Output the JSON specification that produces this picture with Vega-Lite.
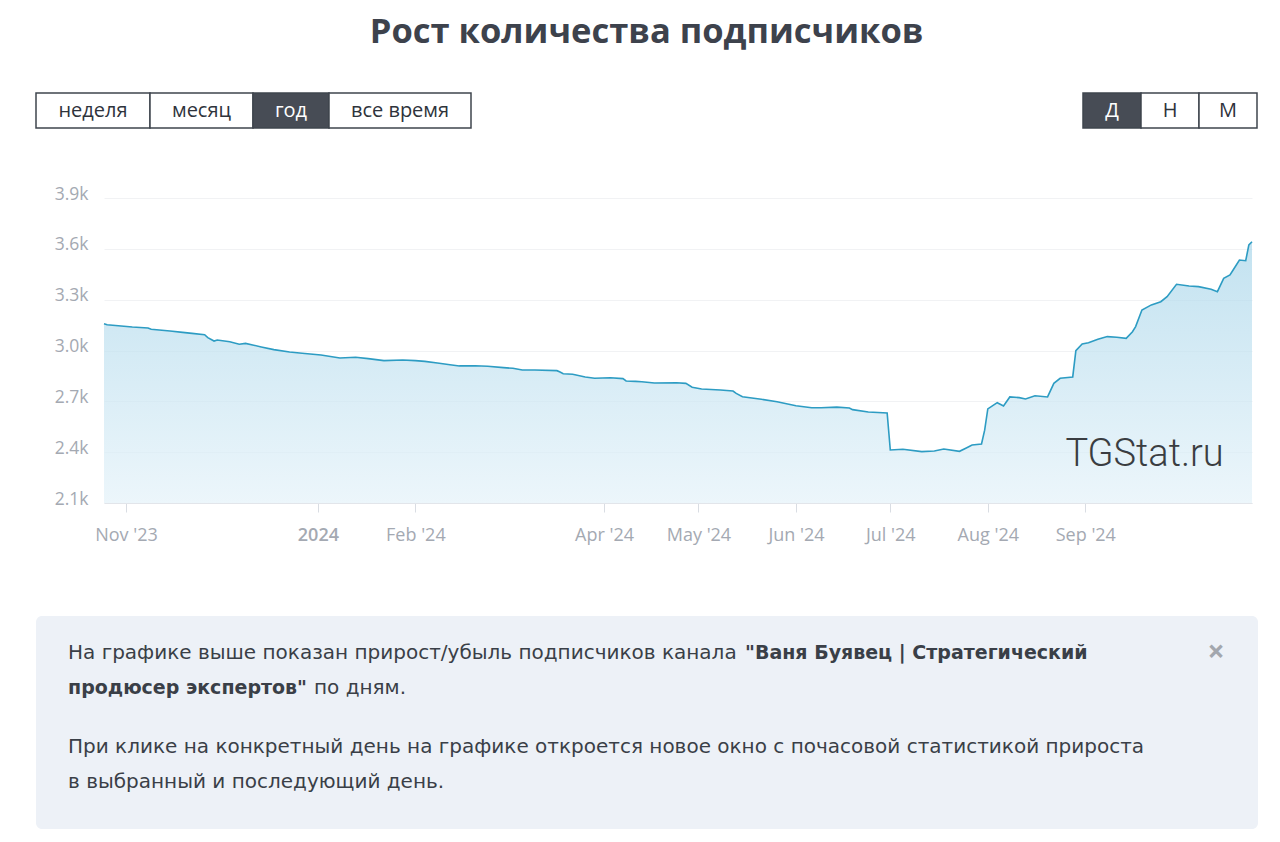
{
  "$schema": "https://vega.github.io/schema/vega-lite/v6.json",
  "background": "white",
  "padding": {"left": 35, "top": 14, "right": 0, "bottom": 0},
  "autosize": {"type": "pad"},
  "title": {"text": "Рост количества подписчиков", "font": "Open Sans", "fontSize": 34.5, "fontWeight": "bold", "color": "#3d424c", "anchor": "middle", "offset": 42},
  "config": {"view": {"stroke": null}, "font": "Open Sans"},
  "vconcat": [
    {
      "hconcat": [
        {"width": 114, "height": 35, "data": {"values": [{"label": "неделя"}]}, "mark": {"type": "text", "fontSize": 20, "color": "#2e333b"}, "encoding": {"text": {"field": "label"}}, "view": {"stroke": "#3f454e", "strokeWidth": 1.5, "fill": "#ffffff"}},
        {"width": 103, "height": 35, "data": {"values": [{"label": "месяц"}]}, "mark": {"type": "text", "fontSize": 20, "color": "#2e333b"}, "encoding": {"text": {"field": "label"}}, "view": {"stroke": "#3f454e", "strokeWidth": 1.5, "fill": "#ffffff"}},
        {"width": 76, "height": 35, "data": {"values": [{"label": "год"}]}, "mark": {"type": "text", "fontSize": 20, "color": "#ffffff"}, "encoding": {"text": {"field": "label"}}, "view": {"stroke": "#3f454e", "strokeWidth": 1.5, "fill": "#474c55"}},
        {"width": 142, "height": 35, "data": {"values": [{"label": "все время"}]}, "mark": {"type": "text", "fontSize": 20, "color": "#2e333b"}, "encoding": {"text": {"field": "label"}}, "view": {"stroke": "#3f454e", "strokeWidth": 1.5, "fill": "#ffffff"}},
        {"width": 612, "height": 35, "data": {"values": [{"label": ""}]}, "mark": {"type": "text"}, "encoding": {"text": {"field": "label"}}},
        {"width": 58, "height": 35, "data": {"values": [{"label": "Д"}]}, "mark": {"type": "text", "fontSize": 20, "color": "#ffffff"}, "encoding": {"text": {"field": "label"}}, "view": {"stroke": "#3f454e", "strokeWidth": 1.5, "fill": "#474c55"}},
        {"width": 58, "height": 35, "data": {"values": [{"label": "Н"}]}, "mark": {"type": "text", "fontSize": 20, "color": "#2e333b"}, "encoding": {"text": {"field": "label"}}, "view": {"stroke": "#3f454e", "strokeWidth": 1.5, "fill": "#ffffff"}},
        {"width": 58, "height": 35, "data": {"values": [{"label": "М"}]}, "mark": {"type": "text", "fontSize": 20, "color": "#2e333b"}, "encoding": {"text": {"field": "label"}}, "view": {"stroke": "#3f454e", "strokeWidth": 1.5, "fill": "#ffffff"}}
      ],
      "spacing": 0, "bounds": "flush"
    },
    {
      "hconcat": [
        {"width": 68, "height": 362, "data": {"values": [{"label": ""}]}, "mark": {"type": "text"}, "encoding": {"text": {"field": "label"}}, "view": {"fill": "#ffffff", "stroke": null}},
        {
          "width": 1148, "height": 305,
          "layer": [
            {
              "data": {"values": [
                {"date": "2023-10-25", "subs": 3158}, {"date": "2023-10-26", "subs": 3152}, {"date": "2023-11-03", "subs": 3139}, {"date": "2023-11-08", "subs": 3133},
                {"date": "2023-11-09", "subs": 3125}, {"date": "2023-11-15", "subs": 3115}, {"date": "2023-11-19", "subs": 3107}, {"date": "2023-11-22", "subs": 3101},
                {"date": "2023-11-26", "subs": 3093}, {"date": "2023-11-27", "subs": 3076}, {"date": "2023-11-29", "subs": 3056}, {"date": "2023-11-30", "subs": 3062},
                {"date": "2023-12-04", "subs": 3052}, {"date": "2023-12-07", "subs": 3037}, {"date": "2023-12-09", "subs": 3042}, {"date": "2023-12-14", "subs": 3021},
                {"date": "2023-12-18", "subs": 3005}, {"date": "2023-12-23", "subs": 2991}, {"date": "2023-12-27", "subs": 2984}, {"date": "2024-01-02", "subs": 2973},
                {"date": "2024-01-08", "subs": 2956}, {"date": "2024-01-13", "subs": 2960}, {"date": "2024-01-17", "subs": 2952}, {"date": "2024-01-22", "subs": 2940},
                {"date": "2024-01-28", "subs": 2944}, {"date": "2024-02-01", "subs": 2940}, {"date": "2024-02-04", "subs": 2936}, {"date": "2024-02-08", "subs": 2926},
                {"date": "2024-02-12", "subs": 2916}, {"date": "2024-02-15", "subs": 2909}, {"date": "2024-02-20", "subs": 2910}, {"date": "2024-02-24", "subs": 2907},
                {"date": "2024-02-29", "subs": 2899}, {"date": "2024-03-03", "subs": 2895}, {"date": "2024-03-06", "subs": 2885}, {"date": "2024-03-10", "subs": 2885},
                {"date": "2024-03-17", "subs": 2881}, {"date": "2024-03-18", "subs": 2873}, {"date": "2024-03-19", "subs": 2863}, {"date": "2024-03-22", "subs": 2860},
                {"date": "2024-03-26", "subs": 2844}, {"date": "2024-03-29", "subs": 2836}, {"date": "2024-04-03", "subs": 2839}, {"date": "2024-04-07", "subs": 2834},
                {"date": "2024-04-08", "subs": 2820}, {"date": "2024-04-11", "subs": 2818}, {"date": "2024-04-13", "subs": 2816}, {"date": "2024-04-17", "subs": 2808},
                {"date": "2024-04-24", "subs": 2810}, {"date": "2024-04-27", "subs": 2806}, {"date": "2024-04-29", "subs": 2783}, {"date": "2024-05-02", "subs": 2773},
                {"date": "2024-05-08", "subs": 2767}, {"date": "2024-05-12", "subs": 2761}, {"date": "2024-05-13", "subs": 2747}, {"date": "2024-05-15", "subs": 2727},
                {"date": "2024-05-21", "subs": 2712}, {"date": "2024-05-26", "subs": 2698}, {"date": "2024-06-01", "subs": 2674}, {"date": "2024-06-06", "subs": 2662},
                {"date": "2024-06-09", "subs": 2662}, {"date": "2024-06-14", "subs": 2666}, {"date": "2024-06-18", "subs": 2661}, {"date": "2024-06-19", "subs": 2651},
                {"date": "2024-06-24", "subs": 2637}, {"date": "2024-06-30", "subs": 2631}, {"date": "2024-07-01", "subs": 2413}, {"date": "2024-07-05", "subs": 2417},
                {"date": "2024-07-11", "subs": 2403}, {"date": "2024-07-15", "subs": 2407}, {"date": "2024-07-18", "subs": 2419}, {"date": "2024-07-23", "subs": 2405},
                {"date": "2024-07-25", "subs": 2423}, {"date": "2024-07-27", "subs": 2442}, {"date": "2024-07-30", "subs": 2448}, {"date": "2024-07-31", "subs": 2530},
                {"date": "2024-08-01", "subs": 2655}, {"date": "2024-08-04", "subs": 2692}, {"date": "2024-08-06", "subs": 2673}, {"date": "2024-08-08", "subs": 2726},
                {"date": "2024-08-11", "subs": 2722}, {"date": "2024-08-13", "subs": 2714}, {"date": "2024-08-16", "subs": 2733}, {"date": "2024-08-20", "subs": 2726},
                {"date": "2024-08-22", "subs": 2806}, {"date": "2024-08-24", "subs": 2836}, {"date": "2024-08-28", "subs": 2844}, {"date": "2024-08-29", "subs": 2999},
                {"date": "2024-08-31", "subs": 3038}, {"date": "2024-09-02", "subs": 3046}, {"date": "2024-09-05", "subs": 3066}, {"date": "2024-09-08", "subs": 3082},
                {"date": "2024-09-11", "subs": 3078}, {"date": "2024-09-14", "subs": 3072}, {"date": "2024-09-16", "subs": 3111}, {"date": "2024-09-17", "subs": 3141},
                {"date": "2024-09-19", "subs": 3239}, {"date": "2024-09-22", "subs": 3269}, {"date": "2024-09-25", "subs": 3288}, {"date": "2024-09-27", "subs": 3318},
                {"date": "2024-09-30", "subs": 3391}, {"date": "2024-10-04", "subs": 3381}, {"date": "2024-10-07", "subs": 3377}, {"date": "2024-10-11", "subs": 3361},
                {"date": "2024-10-13", "subs": 3347}, {"date": "2024-10-15", "subs": 3426}, {"date": "2024-10-17", "subs": 3446}, {"date": "2024-10-18", "subs": 3475},
                {"date": "2024-10-20", "subs": 3534}, {"date": "2024-10-22", "subs": 3530}, {"date": "2024-10-23", "subs": 3623}, {"date": "2024-10-24", "subs": 3642}
              ]},
              "mark": {
                "type": "area",
                "interpolate": "linear",
                "color": {"gradient": "linear", "x1": 0, "y1": 0, "x2": 0, "y2": 1, "stops": [{"offset": 0, "color": "#a9d6ea"}, {"offset": 1, "color": "#e4f2f9"}]},
                "line": {"color": "#2d9cc3", "strokeWidth": 1.6}
              },
              "encoding": {
                "x": {
                  "field": "date", "type": "temporal",
                  "scale": {"type": "utc", "domain": [{"year": 2023, "month": 10, "date": 25, "utc": true}, {"year": 2024, "month": 10, "date": 24, "utc": true}]},
                  "axis": {
                    "title": null, "grid": false,
                    "values": [
                      {"year": 2023, "month": 11, "date": 1, "utc": true}, {"year": 2024, "month": 1, "date": 1, "utc": true}, {"year": 2024, "month": 2, "date": 1, "utc": true},
                      {"year": 2024, "month": 4, "date": 1, "utc": true}, {"year": 2024, "month": 5, "date": 1, "utc": true}, {"year": 2024, "month": 6, "date": 1, "utc": true},
                      {"year": 2024, "month": 7, "date": 1, "utc": true}, {"year": 2024, "month": 8, "date": 1, "utc": true}, {"year": 2024, "month": 9, "date": 1, "utc": true}
                    ],
                    "labelExpr": "utcmonth(datum.value) == 0 ? utcFormat(datum.value, '%Y') : utcFormat(datum.value, \"%b '%y\")",
                    "labelFontWeight": {"condition": {"test": "utcmonth(datum.value) == 0", "value": 600}, "value": "normal"},
                    "domain": true, "domainColor": "#e2e5ea", "domainWidth": 1,
                    "ticks": true, "tickColor": "#d9dde3", "tickSize": 9, "tickWidth": 1,
                    "labelPadding": 14, "labelFontSize": 18, "labelColor": "#a4a9b2", "labelFont": "Open Sans"
                  }
                },
                "y": {
                  "field": "subs", "type": "quantitative",
                  "scale": {"domain": [2100, 3900], "nice": false, "zero": false},
                  "axis": {
                    "title": null, "values": [2100, 2400, 2700, 3000, 3300, 3600, 3900],
                    "labelExpr": "format(datum.value / 1000, '.1f') + 'k'",
                    "grid": true, "gridColor": "#f1f2f4", "gridWidth": 1,
                    "domain": false, "ticks": false, "labelPadding": 16, "labelOffset": -4,
                    "labelFontSize": 17.5, "labelColor": "#a4a9b2", "labelFont": "Open Sans"
                  }
                },
                "y2": {"datum": 2100}
              }
            },
            {
              "data": {"values": [{"label": "TGStat.ru"}]},
              "mark": {"type": "text", "font": "Roboto", "fontWeight": 300, "fontSize": 38, "color": "#3a3d41", "align": "right", "baseline": "middle"},
              "encoding": {
                "text": {"field": "label"},
                "x": {"datum": {"year": 2024, "month": 10, "date": 15, "utc": true}},
                "y": {"datum": 2385}
              }
            }
          ]
        }
      ],
      "spacing": 0, "bounds": "flush"
    },
    {
      "width": 1222, "height": 213,
      "view": {"fill": "#edf1f7", "stroke": null, "cornerRadius": 6},
      "data": {"values": [
        {"paragraph": 1, "seg": "a", "weight": "normal", "text": "На графике выше показан прирост/убыль подписчиков канала\n "},
        {"paragraph": 1, "seg": "b", "weight": "bold", "text": "\"Ваня Буявец | Стратегический\n "},
        {"paragraph": 1, "seg": "a", "weight": "bold", "text": " \nпродюсер экспертов\""},
        {"paragraph": 1, "seg": "c", "weight": "normal", "text": " \nпо дням."},
        {"paragraph": 2, "seg": "a", "weight": "normal", "text": "При клике на конкретный день на графике откроется новое окно с почасовой статистикой прироста\nв выбранный и последующий день."},
        {"paragraph": 1, "seg": "x", "weight": "close", "text": "×\n "}
      ]},
      "encoding": {
        "y": {"field": "paragraph", "type": "ordinal", "axis": null, "scale": {"type": "point", "padding": 0.633, "align": 0.315}},
        "text": {"field": "text"}
      },
      "layer": [
        {"transform": [{"filter": "datum.seg == 'a' && datum.weight == 'normal'"}], "mark": {"type": "text", "align": "left", "baseline": "middle", "lineBreak": "\n", "lineHeight": 35, "x": 32, "font": "DejaVu Sans", "fontSize": 20, "color": "#3a3f47"}},
        {"transform": [{"filter": "datum.seg == 'a' && datum.weight == 'bold'"}], "mark": {"type": "text", "align": "left", "baseline": "middle", "lineBreak": "\n", "lineHeight": 35, "x": 32, "font": "DejaVu Sans", "fontSize": 19, "fontWeight": "bold", "color": "#3a3f47"}},
        {"transform": [{"filter": "datum.seg == 'b'"}], "mark": {"type": "text", "align": "left", "baseline": "middle", "lineBreak": "\n", "lineHeight": 35, "x": 709, "font": "DejaVu Sans", "fontSize": 19, "fontWeight": "bold", "color": "#3a3f47"}},
        {"transform": [{"filter": "datum.seg == 'c'"}], "mark": {"type": "text", "align": "left", "baseline": "middle", "lineBreak": "\n", "lineHeight": 35, "x": 278, "font": "DejaVu Sans", "fontSize": 20, "color": "#3a3f47"}},
        {"transform": [{"filter": "datum.seg == 'x'"}], "mark": {"type": "text", "align": "center", "baseline": "middle", "lineBreak": "\n", "lineHeight": 35, "x": 1180, "fontSize": 30, "fontWeight": "bold", "color": "#a3a7ae"}}
      ]
    }
  ],
  "spacing": 56, "bounds": "full"
}
